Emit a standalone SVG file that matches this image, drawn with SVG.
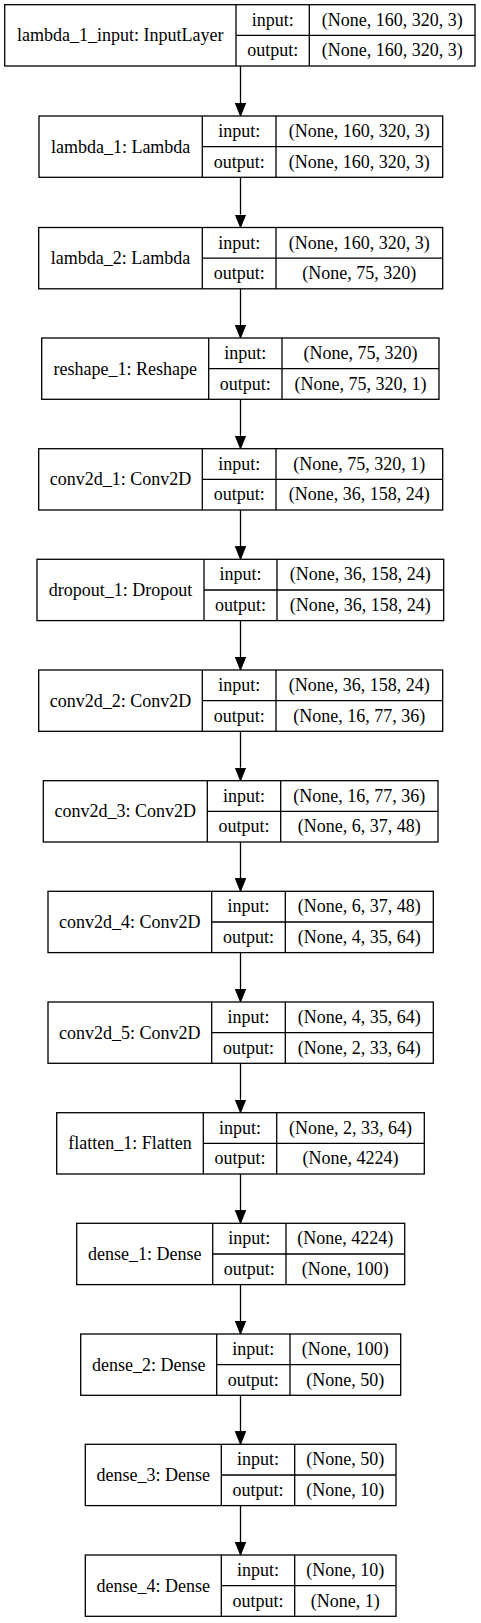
<svg xmlns="http://www.w3.org/2000/svg" width="481" height="1623" viewBox="0 0 481 1623">
<style>
.bx{fill:#fff;stroke:#000;stroke-width:1.3}
.dv{stroke:#000;stroke-width:1.3;fill:none}
text{font-family:"Liberation Serif","Times New Roman",serif;font-size:18px;fill:#000;text-anchor:middle}
.ed{stroke:#000;stroke-width:1.3;fill:none;marker-end:url(#ah)}
</style>
<defs>
<marker id="ah" viewBox="0 0 13 10.4" refX="0" refY="5.2" markerWidth="13" markerHeight="10.4" markerUnits="userSpaceOnUse" orient="auto">
<path d="M0,0 L13,5.2 L0,10.4 z" fill="#000" stroke="#000" stroke-width="1"/>
</marker>
</defs>
<rect width="481" height="1623" fill="#fff"/>
<g id="edges">
<line class="ed" x1="240.5" y1="66" x2="240.5" y2="103"/>
<line class="ed" x1="240.5" y1="177.3" x2="240.5" y2="214.5"/>
<line class="ed" x1="240.5" y1="288.8" x2="240.5" y2="325"/>
<line class="ed" x1="240.5" y1="399.3" x2="240.5" y2="435.7"/>
<line class="ed" x1="240.5" y1="510" x2="240.5" y2="546.3"/>
<line class="ed" x1="240.5" y1="620.6" x2="240.5" y2="657"/>
<line class="ed" x1="240.5" y1="731.3" x2="240.5" y2="767.7"/>
<line class="ed" x1="240.5" y1="842" x2="240.5" y2="878.3"/>
<line class="ed" x1="240.5" y1="952.6" x2="240.5" y2="989"/>
<line class="ed" x1="240.5" y1="1063.3" x2="240.5" y2="1099.7"/>
<line class="ed" x1="240.5" y1="1174" x2="240.5" y2="1210.3"/>
<line class="ed" x1="240.5" y1="1284.6" x2="240.5" y2="1321"/>
<line class="ed" x1="240.5" y1="1395.3" x2="240.5" y2="1431.3"/>
<line class="ed" x1="240.5" y1="1505.6" x2="240.5" y2="1542"/>
</g>
<g id="lambda_1_input" transform="translate(0,4.7)">
<rect class="bx" x="4.7" y="0" width="470.3" height="61.3"/>
<path class="dv" d="M236,0V61.3M309.3,0V61.3M236,30.7H475"/>
<text x="120.35" y="36.7">lambda_1_input: InputLayer</text>
<text x="272.65" y="21.1">input:</text>
<text x="272.65" y="51.8">output:</text>
<text x="392.15" y="21.1">(None, 160, 320, 3)</text>
<text x="392.15" y="51.8">(None, 160, 320, 3)</text>
</g>
<g id="lambda_1" transform="translate(0,116)">
<rect class="bx" x="39" y="0" width="403.7" height="61.3"/>
<path class="dv" d="M202.3,0V61.3M276,0V61.3M202.3,30.7H442.7"/>
<text x="120.65" y="36.7">lambda_1: Lambda</text>
<text x="239.15" y="21.1">input:</text>
<text x="239.15" y="51.8">output:</text>
<text x="359.35" y="21.1">(None, 160, 320, 3)</text>
<text x="359.35" y="51.8">(None, 160, 320, 3)</text>
</g>
<g id="lambda_2" transform="translate(0,227.5)">
<rect class="bx" x="38.7" y="0" width="404" height="61.3"/>
<path class="dv" d="M202.3,0V61.3M276,0V61.3M202.3,30.7H442.7"/>
<text x="120.5" y="36.7">lambda_2: Lambda</text>
<text x="239.15" y="21.1">input:</text>
<text x="239.15" y="51.8">output:</text>
<text x="359.35" y="21.1">(None, 160, 320, 3)</text>
<text x="359.35" y="51.8">(None, 75, 320)</text>
</g>
<g id="reshape_1" transform="translate(0,338)">
<rect class="bx" x="41.7" y="0" width="397.3" height="61.3"/>
<path class="dv" d="M208.7,0V61.3M282,0V61.3M208.7,30.7H439"/>
<text x="125.2" y="36.7">reshape_1: Reshape</text>
<text x="245.35" y="21.1">input:</text>
<text x="245.35" y="51.8">output:</text>
<text x="360.5" y="21.1">(None, 75, 320)</text>
<text x="360.5" y="51.8">(None, 75, 320, 1)</text>
</g>
<g id="conv2d_1" transform="translate(0,448.7)">
<rect class="bx" x="38.7" y="0" width="404" height="61.3"/>
<path class="dv" d="M202.3,0V61.3M276,0V61.3M202.3,30.7H442.7"/>
<text x="120.5" y="36.7">conv2d_1: Conv2D</text>
<text x="239.15" y="21.1">input:</text>
<text x="239.15" y="51.8">output:</text>
<text x="359.35" y="21.1">(None, 75, 320, 1)</text>
<text x="359.35" y="51.8">(None, 36, 158, 24)</text>
</g>
<g id="dropout_1" transform="translate(0,559.3)">
<rect class="bx" x="37" y="0" width="406.7" height="61.3"/>
<path class="dv" d="M204,0V61.3M277,0V61.3M204,30.7H443.7"/>
<text x="120.5" y="36.7">dropout_1: Dropout</text>
<text x="240.5" y="21.1">input:</text>
<text x="240.5" y="51.8">output:</text>
<text x="360.35" y="21.1">(None, 36, 158, 24)</text>
<text x="360.35" y="51.8">(None, 36, 158, 24)</text>
</g>
<g id="conv2d_2" transform="translate(0,670)">
<rect class="bx" x="38.7" y="0" width="404" height="61.3"/>
<path class="dv" d="M202.3,0V61.3M276,0V61.3M202.3,30.7H442.7"/>
<text x="120.5" y="36.7">conv2d_2: Conv2D</text>
<text x="239.15" y="21.1">input:</text>
<text x="239.15" y="51.8">output:</text>
<text x="359.35" y="21.1">(None, 36, 158, 24)</text>
<text x="359.35" y="51.8">(None, 16, 77, 36)</text>
</g>
<g id="conv2d_3" transform="translate(0,780.7)">
<rect class="bx" x="43.3" y="0" width="394.7" height="61.3"/>
<path class="dv" d="M207.3,0V61.3M280.7,0V61.3M207.3,30.7H438"/>
<text x="125.3" y="36.7">conv2d_3: Conv2D</text>
<text x="244" y="21.1">input:</text>
<text x="244" y="51.8">output:</text>
<text x="359.35" y="21.1">(None, 16, 77, 36)</text>
<text x="359.35" y="51.8">(None, 6, 37, 48)</text>
</g>
<g id="conv2d_4" transform="translate(0,891.3)">
<rect class="bx" x="48" y="0" width="385.3" height="61.3"/>
<path class="dv" d="M211.7,0V61.3M285.3,0V61.3M211.7,30.7H433.3"/>
<text x="129.85" y="36.7">conv2d_4: Conv2D</text>
<text x="248.5" y="21.1">input:</text>
<text x="248.5" y="51.8">output:</text>
<text x="359.3" y="21.1">(None, 6, 37, 48)</text>
<text x="359.3" y="51.8">(None, 4, 35, 64)</text>
</g>
<g id="conv2d_5" transform="translate(0,1002)">
<rect class="bx" x="48" y="0" width="385.3" height="61.3"/>
<path class="dv" d="M211.7,0V61.3M285.3,0V61.3M211.7,30.7H433.3"/>
<text x="129.85" y="36.7">conv2d_5: Conv2D</text>
<text x="248.5" y="21.1">input:</text>
<text x="248.5" y="51.8">output:</text>
<text x="359.3" y="21.1">(None, 4, 35, 64)</text>
<text x="359.3" y="51.8">(None, 2, 33, 64)</text>
</g>
<g id="flatten_1" transform="translate(0,1112.7)">
<rect class="bx" x="56.7" y="0" width="367.6" height="61.3"/>
<path class="dv" d="M203.3,0V61.3M276.7,0V61.3M203.3,30.7H424.3"/>
<text x="130" y="36.7">flatten_1: Flatten</text>
<text x="240" y="21.1">input:</text>
<text x="240" y="51.8">output:</text>
<text x="350.5" y="21.1">(None, 2, 33, 64)</text>
<text x="350.5" y="51.8">(None, 4224)</text>
</g>
<g id="dense_1" transform="translate(0,1223.3)">
<rect class="bx" x="76.7" y="0" width="328" height="61.3"/>
<path class="dv" d="M212.7,0V61.3M286,0V61.3M212.7,30.7H404.7"/>
<text x="144.7" y="36.7">dense_1: Dense</text>
<text x="249.35" y="21.1">input:</text>
<text x="249.35" y="51.8">output:</text>
<text x="345.35" y="21.1">(None, 4224)</text>
<text x="345.35" y="51.8">(None, 100)</text>
</g>
<g id="dense_2" transform="translate(0,1334)">
<rect class="bx" x="80.7" y="0" width="320" height="61.3"/>
<path class="dv" d="M216.7,0V61.3M290,0V61.3M216.7,30.7H400.7"/>
<text x="148.7" y="36.7">dense_2: Dense</text>
<text x="253.35" y="21.1">input:</text>
<text x="253.35" y="51.8">output:</text>
<text x="345.35" y="21.1">(None, 100)</text>
<text x="345.35" y="51.8">(None, 50)</text>
</g>
<g id="dense_3" transform="translate(0,1444.3)">
<rect class="bx" x="85.3" y="0" width="310.7" height="61.3"/>
<path class="dv" d="M221.3,0V61.3M294.7,0V61.3M221.3,30.7H396"/>
<text x="153.3" y="36.7">dense_3: Dense</text>
<text x="258" y="21.1">input:</text>
<text x="258" y="51.8">output:</text>
<text x="345.35" y="21.1">(None, 50)</text>
<text x="345.35" y="51.8">(None, 10)</text>
</g>
<g id="dense_4" transform="translate(0,1555)">
<rect class="bx" x="85.3" y="0" width="310.7" height="61.3"/>
<path class="dv" d="M221.3,0V61.3M294.7,0V61.3M221.3,30.7H396"/>
<text x="153.3" y="36.7">dense_4: Dense</text>
<text x="258" y="21.1">input:</text>
<text x="258" y="51.8">output:</text>
<text x="345.35" y="21.1">(None, 10)</text>
<text x="345.35" y="51.8">(None, 1)</text>
</g>
</svg>
